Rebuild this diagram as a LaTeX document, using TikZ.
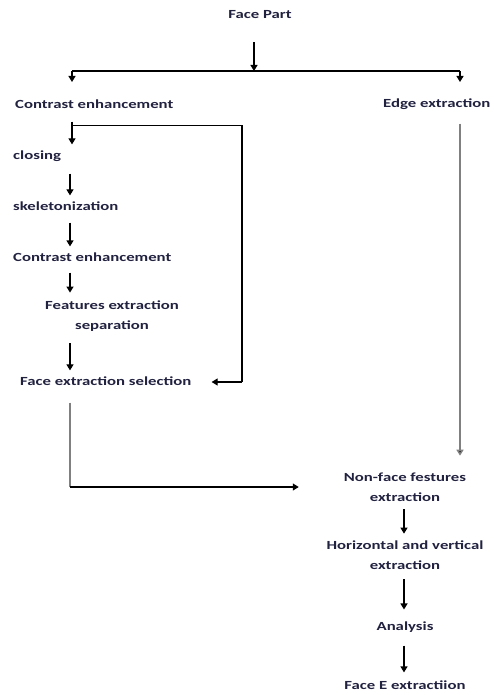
\documentclass[tikz,border=0pt]{standalone}
\usepackage{fontspec}
\setmainfont{Carlito}[FakeStretch=1.35]
\usetikzlibrary{arrows.meta,calc}
\definecolor{txt}{rgb}{0.13,0.13,0.25}
\definecolor{lgray}{rgb}{0.5,0.5,0.5}
\tikzset{
  lbl/.style={inner sep=0pt, font=\fontsize{12.4}{19.5}\selectfont\bfseries, text=txt},
  arr/.style={draw=black, line width=1.2pt, -{Triangle[width=7pt,length=6pt]}},
  ln/.style={draw=black, line width=1.2pt},
  glin/.style={draw=lgray, line width=1.8pt},
  garr/.style={draw=lgray, line width=1.8pt, -{Triangle[width=7pt,length=6pt,fill=black]}},
}
\begin{document}
\begin{tikzpicture}[x=1pt,y=-1pt]
\useasboundingbox (0,0) rectangle (494,695);
% nodes
\node[lbl] (fp) at (260,15) {Face Part};
\node[lbl,anchor=west] (ce1) at (15,104) {Contrast enhancement};
\node[lbl,anchor=west] (ee) at (383,104) {Edge extraction};
\node[lbl,anchor=west] (cl) at (13,156) {closing};
\node[lbl,anchor=west] (sk) at (13,206) {skeletonization};
\node[lbl,anchor=west] (ce2) at (13,257) {Contrast enhancement};
\node[lbl,align=center] (fes) at (112,316) {Features extraction\\separation};
\node[lbl,anchor=west] (fsel) at (20,381) {Face extraction selection};
\node[lbl,align=center] (nf) at (405,487) {Non-face festures\\extraction};
\node[lbl,align=center] (hv) at (405,555) {Horizontal and vertical\\extraction};
\node[lbl] (an) at (405,627) {Analysis};
\node[lbl] (fe) at (405,685) {Face E extractiion};
% coordinates
\coordinate (split) at (254,71);
\coordinate (sl) at (72,71);
\coordinate (sr) at (460,71);
\coordinate (fbtop) at (242,128);
\coordinate (fbbot) at (242,382);
\coordinate (corner) at (70,487);
% connectors
\draw[arr] (fp.south -| split) ++(0,23) -- (split);
\draw[ln] (sl) -- (sr);
\draw[arr] (sl) -- ++(0,11);
\draw[arr] (sr) -- ++(0,11);
\draw[arr] ($(ce1.south west)+(57,13)$) -- ($(cl.north west)+(59,-6)$);
\draw[ln] ($(ce1.south west)+(57,17)$) -| (fbtop) -- (fbbot);
\draw[arr] (fbbot) -- ($(fsel.east)+(20,1)$);
\draw[arr] ($(cl.south west)+(57,12)$) -- ($(sk.north west)+(57,-6)$);
\draw[arr] ($(sk.south west)+(57,12)$) -- ($(ce2.north west)+(57,-6)$);
\draw[arr] ($(ce2.south west)+(57,11)$) -- ($(ce2.south west)+(57,31)$);
\draw[arr] ($(fes.south -| sk.west)+(57,12)$) -- ($(fsel.north west)+(50,-6)$);
\draw[glin] ($(fsel.south west)+(50,17)$) -- (corner);
\draw[arr] (corner) -- ($(nf.west)+(-45,0)$);
\draw[garr] ($(ee.south -| sr)+(0,14)$) -- ($(nf.north -| sr)+(0,-17)$);
\draw[arr] ($(nf.south)+(-1,8)$) -- ($(hv.north)+(-1,-7)$);
\draw[arr] ($(hv.south)+(-1,10)$) -- ($(an.north)+(-1,-12)$);
\draw[arr] ($(an.south)+(-1,13)$) -- ($(fe.north)+(-1,-8)$);
\end{tikzpicture}
\end{document}
